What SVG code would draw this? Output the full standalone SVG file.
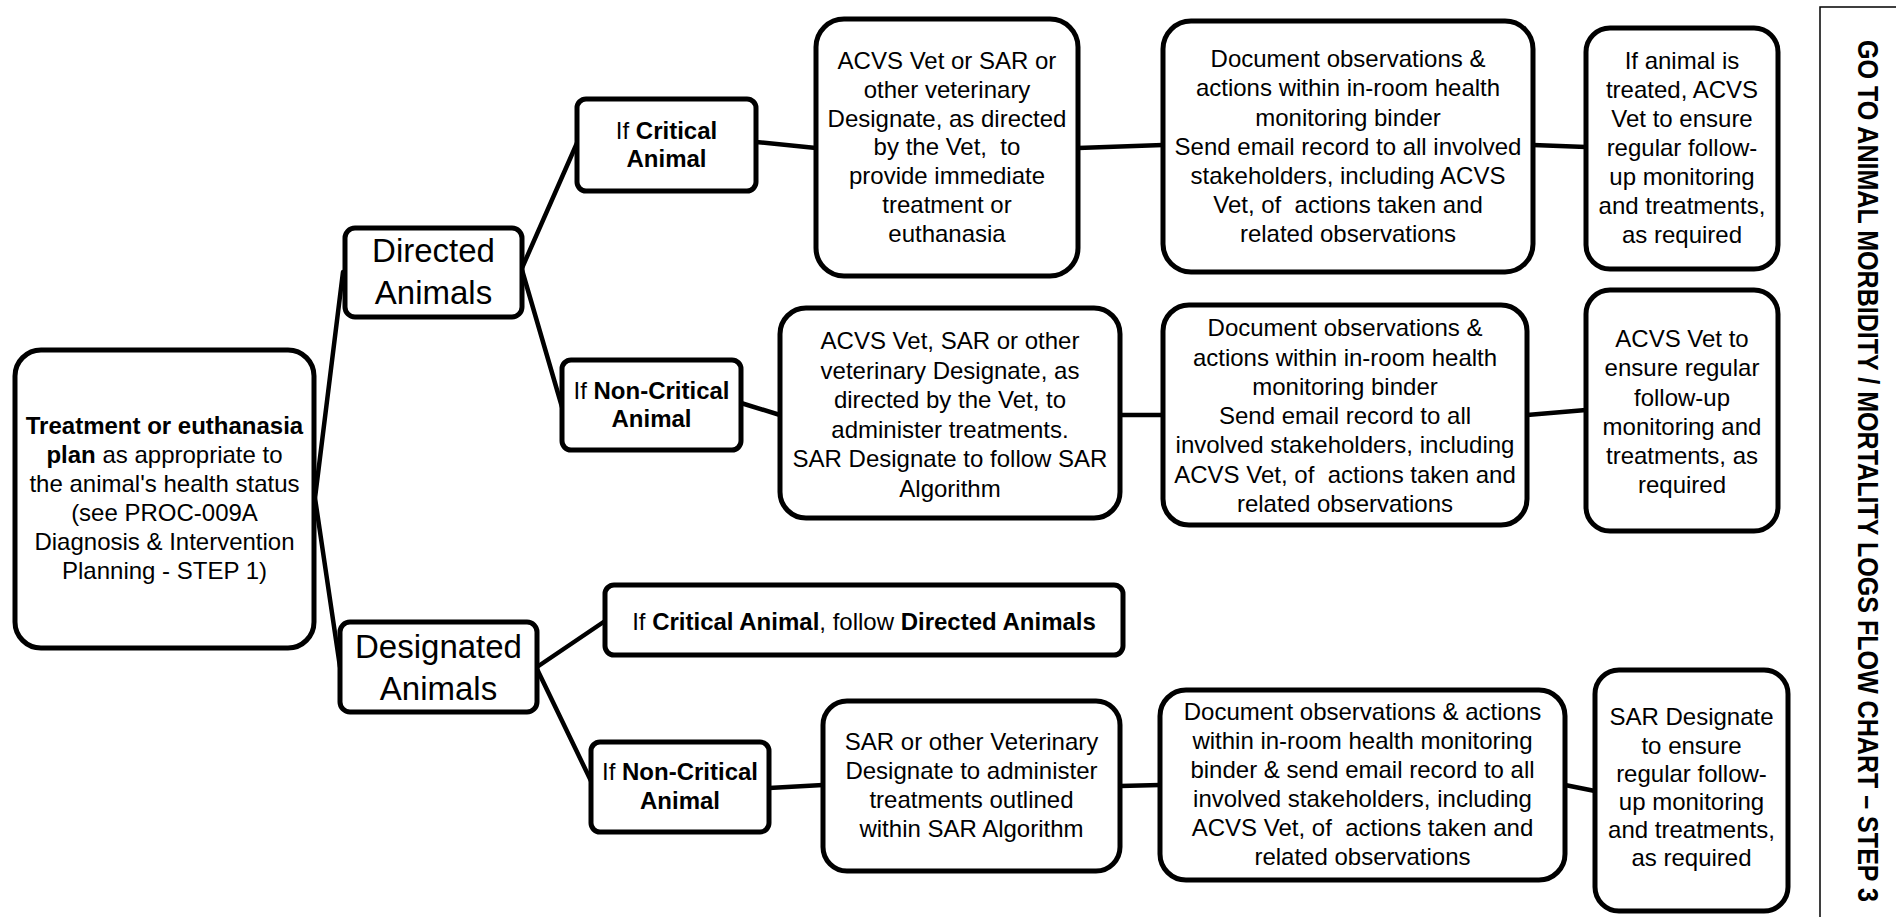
<svg xmlns="http://www.w3.org/2000/svg" width="1896" height="917" viewBox="0 0 1896 917">
<style>
.box{fill:#fff;stroke:#000;stroke-width:5}
.con{fill:none;stroke:#000;stroke-width:4.5;stroke-linecap:round}
.t{font-family:"Liberation Sans",Arial,sans-serif;font-size:24px;text-anchor:middle;fill:#000}
.big{font-family:"Liberation Sans",Arial,sans-serif;font-size:33px;text-anchor:middle;fill:#000}
.b{font-weight:bold}
.side{font-family:"Liberation Sans",Arial,sans-serif;font-size:29px;font-weight:bold;fill:#000;writing-mode:vertical-rl;text-orientation:sideways}
</style>
<rect width="1896" height="917" fill="#fff"/>
<g id="connectors">
<line class="con" x1="315" y1="498" x2="343" y2="272"/>
<line class="con" x1="315" y1="498" x2="340" y2="667"/>
<line class="con" x1="522" y1="268" x2="577" y2="143"/>
<line class="con" x1="522" y1="270" x2="562" y2="407"/>
<line class="con" x1="756" y1="142" x2="816" y2="148"/>
<line class="con" x1="1078" y1="148" x2="1163" y2="145"/>
<line class="con" x1="1533" y1="145" x2="1586" y2="147"/>
<line class="con" x1="741" y1="403" x2="780" y2="415"/>
<line class="con" x1="1120" y1="415" x2="1163" y2="415"/>
<line class="con" x1="1527" y1="415" x2="1586" y2="410"/>
<line class="con" x1="537" y1="667" x2="605" y2="621"/>
<line class="con" x1="537" y1="669" x2="592" y2="783"/>
<line class="con" x1="769" y1="788" x2="823" y2="785"/>
<line class="con" x1="1120" y1="786" x2="1160" y2="785"/>
<line class="con" x1="1565" y1="785" x2="1595" y2="791"/>
</g>
<g id="plan">
<rect class="box" x="15" y="350" width="299" height="298" rx="26"/>
<text class="t"><tspan x="164.5" y="434" class="b">Treatment or euthanasia</tspan><tspan x="164.5" y="463"><tspan class="b">plan</tspan> as appropriate to</tspan><tspan x="164.5" y="492">the animal's health status</tspan><tspan x="164.5" y="521">(see PROC-009A</tspan><tspan x="164.5" y="550">Diagnosis &amp; Intervention</tspan><tspan x="164.5" y="579">Planning - STEP 1)</tspan></text>
</g>
<g id="directed">
<rect class="box" x="345" y="228" width="177" height="89" rx="10"/>
<text class="big"><tspan x="433.5" y="262">Directed</tspan><tspan x="433.5" y="304">Animals</tspan></text>
</g>
<g id="designated">
<rect class="box" x="340" y="622" width="197" height="90" rx="10"/>
<text class="big"><tspan x="438.5" y="658">Designated</tspan><tspan x="438.5" y="700">Animals</tspan></text>
</g>
<g id="dir-critical">
<rect class="box" x="577" y="99" width="179" height="92" rx="9"/>
<text class="t"><tspan x="666.5" y="139">If <tspan class="b">Critical</tspan></tspan><tspan x="666.5" y="167" class="b">Animal</tspan></text>
</g>
<g id="dir-noncritical">
<rect class="box" x="562" y="360" width="179" height="90" rx="9"/>
<text class="t"><tspan x="651.5" y="399">If <tspan class="b">Non-Critical</tspan></tspan><tspan x="651.5" y="427" class="b">Animal</tspan></text>
</g>
<g id="dir-critical-action">
<rect class="box" x="816" y="19" width="262" height="257" rx="28"/>
<text class="t" xml:space="preserve"><tspan x="947" y="69">ACVS Vet or SAR or</tspan><tspan x="947" y="98">other veterinary</tspan><tspan x="947" y="126.5">Designate, as directed</tspan><tspan x="947" y="155">by the Vet,  to</tspan><tspan x="947" y="184">provide immediate</tspan><tspan x="947" y="213">treatment or</tspan><tspan x="947" y="241.5">euthanasia</tspan></text>
</g>
<g id="dir-critical-doc">
<rect class="box" x="1163" y="21" width="370" height="251" rx="28"/>
<text class="t" xml:space="preserve"><tspan x="1348" y="67">Document observations &amp;</tspan><tspan x="1348" y="96">actions within in-room health</tspan><tspan x="1348" y="125.5">monitoring binder</tspan><tspan x="1348" y="155">Send email record to all involved</tspan><tspan x="1348" y="184">stakeholders, including ACVS</tspan><tspan x="1348" y="213">Vet, of  actions taken and</tspan><tspan x="1348" y="242">related observations</tspan></text>
</g>
<g id="dir-critical-follow">
<rect class="box" x="1586" y="28" width="192" height="241" rx="24"/>
<text class="t"><tspan x="1682" y="69">If animal is</tspan><tspan x="1682" y="98">treated, ACVS</tspan><tspan x="1682" y="127">Vet to ensure</tspan><tspan x="1682" y="156">regular follow-</tspan><tspan x="1682" y="185">up monitoring</tspan><tspan x="1682" y="214">and treatments,</tspan><tspan x="1682" y="243">as required</tspan></text>
</g>
<g id="dir-noncritical-action">
<rect class="box" x="780" y="308" width="340" height="210" rx="26"/>
<text class="t"><tspan x="950" y="349">ACVS Vet, SAR or other</tspan><tspan x="950" y="378.5">veterinary Designate, as</tspan><tspan x="950" y="408">directed by the Vet, to</tspan><tspan x="950" y="437.5">administer treatments.</tspan><tspan x="950" y="467">SAR Designate to follow SAR</tspan><tspan x="950" y="496.5">Algorithm</tspan></text>
</g>
<g id="dir-noncritical-doc">
<rect class="box" x="1163" y="305" width="364" height="220" rx="26"/>
<text class="t" xml:space="preserve"><tspan x="1345" y="336">Document observations &amp;</tspan><tspan x="1345" y="365.5">actions within in-room health</tspan><tspan x="1345" y="395">monitoring binder</tspan><tspan x="1345" y="424">Send email record to all</tspan><tspan x="1345" y="453">involved stakeholders, including</tspan><tspan x="1345" y="482.5">ACVS Vet, of  actions taken and</tspan><tspan x="1345" y="512">related observations</tspan></text>
</g>
<g id="dir-noncritical-follow">
<rect class="box" x="1586" y="290" width="192" height="241" rx="24"/>
<text class="t"><tspan x="1682" y="347">ACVS Vet to</tspan><tspan x="1682" y="376">ensure regular</tspan><tspan x="1682" y="405.5">follow-up</tspan><tspan x="1682" y="434.5">monitoring and</tspan><tspan x="1682" y="463.5">treatments, as</tspan><tspan x="1682" y="493">required</tspan></text>
</g>
<g id="des-critical">
<rect class="box" x="605" y="585" width="518" height="70" rx="9"/>
<text class="t" x="864" y="629.5">If <tspan class="b">Critical Animal</tspan>, follow <tspan class="b">Directed Animals</tspan></text>
</g>
<g id="des-noncritical">
<rect class="box" x="591" y="742" width="178" height="90" rx="9"/>
<text class="t"><tspan x="680" y="780">If <tspan class="b">Non-Critical</tspan></tspan><tspan x="680" y="809" class="b">Animal</tspan></text>
</g>
<g id="des-noncritical-action">
<rect class="box" x="823" y="701" width="297" height="170" rx="24"/>
<text class="t"><tspan x="971.5" y="750">SAR or other Veterinary</tspan><tspan x="971.5" y="779">Designate to administer</tspan><tspan x="971.5" y="808">treatments outlined</tspan><tspan x="971.5" y="837">within SAR Algorithm</tspan></text>
</g>
<g id="des-noncritical-doc">
<rect class="box" x="1160" y="690" width="405" height="190" rx="26"/>
<text class="t" xml:space="preserve"><tspan x="1362.5" y="720">Document observations &amp; actions</tspan><tspan x="1362.5" y="749">within in-room health monitoring</tspan><tspan x="1362.5" y="778">binder &amp; send email record to all</tspan><tspan x="1362.5" y="807">involved stakeholders, including</tspan><tspan x="1362.5" y="836">ACVS Vet, of  actions taken and</tspan><tspan x="1362.5" y="865">related observations</tspan></text>
</g>
<g id="des-noncritical-follow">
<rect class="box" x="1595" y="670" width="193" height="241" rx="24"/>
<text class="t"><tspan x="1691.5" y="725">SAR Designate</tspan><tspan x="1691.5" y="753.5">to ensure</tspan><tspan x="1691.5" y="782">regular follow-</tspan><tspan x="1691.5" y="810">up monitoring</tspan><tspan x="1691.5" y="838">and treatments,</tspan><tspan x="1691.5" y="866">as required</tspan></text>
</g>
<g id="goto">
<rect x="1820" y="7" width="100" height="960" fill="#fff" stroke="#000" stroke-width="1.5"/>
<text class="side" x="1858" y="40" textLength="862" lengthAdjust="spacingAndGlyphs">GO TO ANIMAL MORBIDITY / MORTALITY LOGS FLOW CHART – STEP 3</text>
</g>
</svg>
